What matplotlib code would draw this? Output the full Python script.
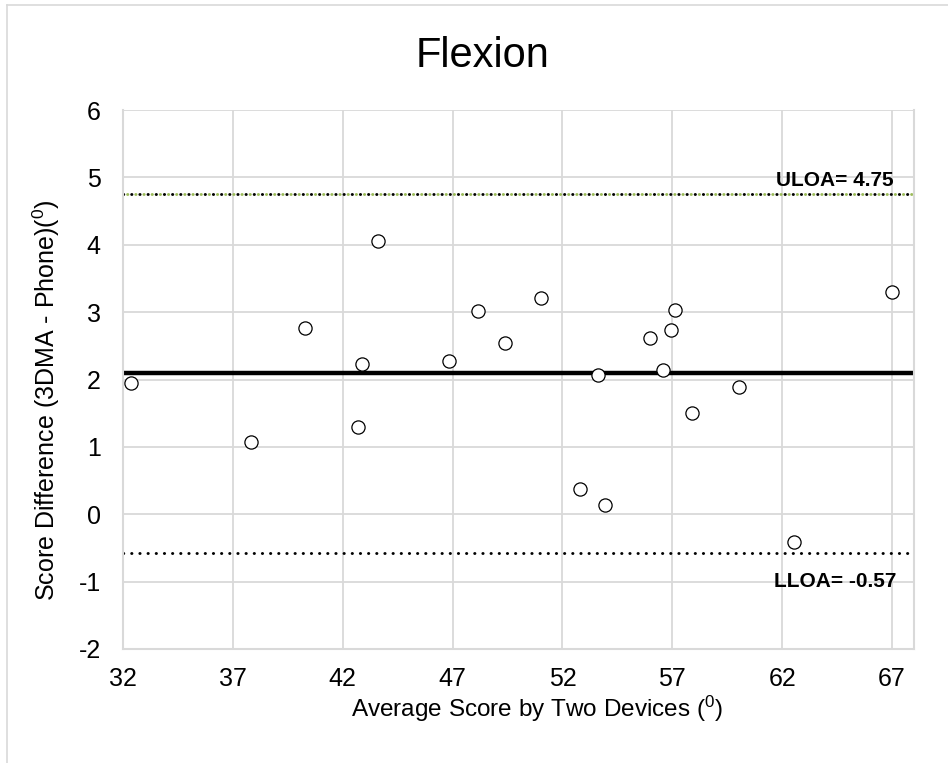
import matplotlib
matplotlib.use("Agg")
import matplotlib.pyplot as plt
from matplotlib.lines import Line2D

plt.rcParams['font.family'] = ['Liberation Sans', 'DejaVu Sans']
plt.rcParams['mathtext.fontset'] = 'custom'
plt.rcParams['mathtext.rm'] = 'Liberation Sans'
plt.rcParams['mathtext.it'] = 'Liberation Sans:italic'
plt.rcParams['axes.unicode_minus'] = False

# Bland-Altman data: mean of the two devices vs. difference (3DMA - Phone)
avg_score = [32.36, 37.81, 40.28, 42.68, 42.88, 43.60, 46.85, 48.14, 49.39, 51.04,
             52.79, 53.61, 53.92, 56.00, 56.58, 56.94, 57.14, 57.90, 60.05, 62.53, 67.00]
score_diff = [1.95, 1.07, 2.76, 1.30, 2.23, 4.05, 2.27, 3.02, 2.54, 3.21,
              0.38, 2.07, 0.14, 2.62, 2.14, 2.74, 3.03, 1.51, 1.89, -0.41, 3.30]
mean_diff = 2.09
uloa = 4.75
lloa = -0.57
x_ticks = [32, 37, 42, 47, 52, 57, 62, 67]
y_ticks = [-2, -1, 0, 1, 2, 3, 4, 5, 6]

grid_col = '#D9D9D9'
dot_lw = 2.1
dots = (0, (0.1, 2.7))
dots_shifted = (1.4, (0.1, 2.7))

fig = plt.figure(figsize=(9.48, 7.63), dpi=100)
ax = fig.add_axes([123 / 948, 1 - 649 / 763, (914 - 123) / 948, (649 - 110) / 763])

ax.set_xlim(32, 68)
ax.set_ylim(-2, 6)
ax.set_xticks(x_ticks)
ax.set_yticks(y_ticks)
ax.grid(True, color=grid_col, linewidth=1.3)
ax.set_axisbelow(True)
for s in ax.spines.values():
    s.set_color(grid_col)
    s.set_linewidth(1.5)
ax.spines['top'].set_visible(False)
ax.tick_params(axis='both', length=0, labelsize=18)
ax.tick_params(axis='y', pad=16)
ax.tick_params(axis='x', pad=13)

# mean and limits of agreement
ax.axhline(mean_diff, color='black', linewidth=3.2, zorder=2)
ax.plot([32, 68], [uloa, uloa], color='#9BBB59', linewidth=dot_lw,
        linestyle=dots_shifted, dash_capstyle='round', zorder=2)
ax.plot([32, 68], [uloa, uloa], color='black', linewidth=dot_lw,
        linestyle=dots, dash_capstyle='round', zorder=2)
ax.plot([32, 68], [lloa, lloa], color='black', linewidth=dot_lw,
        linestyle=dots, dash_capstyle='round', zorder=2)

ax.plot(avg_score, score_diff, linestyle='none', marker='o', markersize=9.5,
        markerfacecolor='white', markeredgecolor='black', markeredgewidth=0.9,
        zorder=3, clip_on=False)

ax.text(67.05, uloa + 0.12, f'ULOA= {uloa:.2f}', ha='right', va='baseline',
        fontsize=15, fontweight='bold')
ax.text(67.2, lloa - 0.28, f'LLOA= {lloa:.2f}', ha='right', va='top',
        fontsize=15, fontweight='bold')

ax.set_xlabel(r'Average Score by Two Devices ($^{\mathrm{0}}$)', fontsize=17.5)
ax.set_ylabel(r'Score Difference (3DMA - Phone)($^{\mathrm{0}}$)', fontsize=18)
ax.xaxis.set_label_coords(0.523, -0.083)
ax.yaxis.set_label_coords(-0.077, 0.462)

fig.text(483 / 948, 1 - 67 / 763, 'Flexion', ha='center', va='baseline', fontsize=30)

# chart area border (left and top edges)
fig.add_artist(Line2D([7 / 948, 7 / 948], [0, 1 - 5 / 763], color=grid_col, linewidth=1.2))
fig.add_artist(Line2D([7 / 948, 1], [1 - 5 / 763, 1 - 5 / 763], color=grid_col, linewidth=1.2))

fig.savefig('out.png', dpi=100, facecolor='white')
